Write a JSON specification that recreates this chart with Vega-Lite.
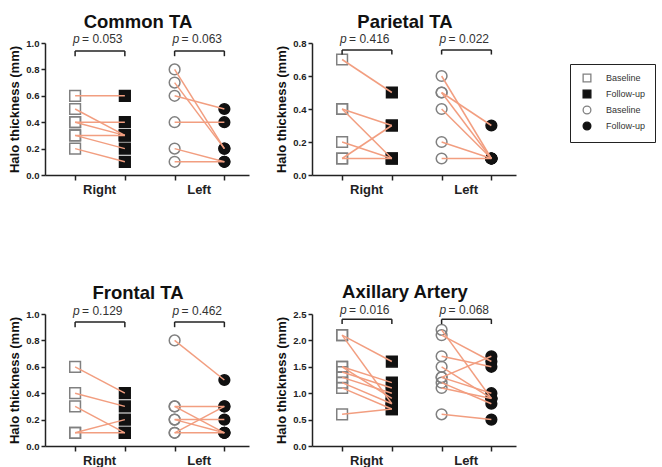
{
 "$schema": "https://vega.github.io/schema/vega-lite/v6.json",
 "padding": {"left": 8, "top": 12, "right": 0, "bottom": 0},
 "datasets": {
  "common": [
   {"pid":"R1","grp":"Right Baseline","val":0.6},{"pid":"R1","grp":"Right Follow-up","val":0.6},
   {"pid":"R2","grp":"Right Baseline","val":0.5},{"pid":"R2","grp":"Right Follow-up","val":0.3},
   {"pid":"R3","grp":"Right Baseline","val":0.4},{"pid":"R3","grp":"Right Follow-up","val":0.4},
   {"pid":"R4","grp":"Right Baseline","val":0.4},{"pid":"R4","grp":"Right Follow-up","val":0.3},
   {"pid":"R5","grp":"Right Baseline","val":0.3},{"pid":"R5","grp":"Right Follow-up","val":0.3},
   {"pid":"R6","grp":"Right Baseline","val":0.3},{"pid":"R6","grp":"Right Follow-up","val":0.2},
   {"pid":"R7","grp":"Right Baseline","val":0.2},{"pid":"R7","grp":"Right Follow-up","val":0.1},
   {"pid":"L1","grp":"Left Baseline","val":0.8},{"pid":"L1","grp":"Left Follow-up","val":0.2},
   {"pid":"L2","grp":"Left Baseline","val":0.7},{"pid":"L2","grp":"Left Follow-up","val":0.2},
   {"pid":"L3","grp":"Left Baseline","val":0.6},{"pid":"L3","grp":"Left Follow-up","val":0.5},
   {"pid":"L4","grp":"Left Baseline","val":0.4},{"pid":"L4","grp":"Left Follow-up","val":0.4},
   {"pid":"L5","grp":"Left Baseline","val":0.2},{"pid":"L5","grp":"Left Follow-up","val":0.1},
   {"pid":"L6","grp":"Left Baseline","val":0.1},{"pid":"L6","grp":"Left Follow-up","val":0.1}
  ],
  "parietal": [
   {"pid":"R1","grp":"Right Baseline","val":0.7},{"pid":"R1","grp":"Right Follow-up","val":0.5},
   {"pid":"R2","grp":"Right Baseline","val":0.4},{"pid":"R2","grp":"Right Follow-up","val":0.3},
   {"pid":"R3","grp":"Right Baseline","val":0.4},{"pid":"R3","grp":"Right Follow-up","val":0.1},
   {"pid":"R4","grp":"Right Baseline","val":0.2},{"pid":"R4","grp":"Right Follow-up","val":0.1},
   {"pid":"R5","grp":"Right Baseline","val":0.1},{"pid":"R5","grp":"Right Follow-up","val":0.3},
   {"pid":"R6","grp":"Right Baseline","val":0.1},{"pid":"R6","grp":"Right Follow-up","val":0.1},
   {"pid":"L1","grp":"Left Baseline","val":0.6},{"pid":"L1","grp":"Left Follow-up","val":0.1},
   {"pid":"L2","grp":"Left Baseline","val":0.5},{"pid":"L2","grp":"Left Follow-up","val":0.3},
   {"pid":"L3","grp":"Left Baseline","val":0.5},{"pid":"L3","grp":"Left Follow-up","val":0.1},
   {"pid":"L4","grp":"Left Baseline","val":0.4},{"pid":"L4","grp":"Left Follow-up","val":0.1},
   {"pid":"L5","grp":"Left Baseline","val":0.2},{"pid":"L5","grp":"Left Follow-up","val":0.1},
   {"pid":"L6","grp":"Left Baseline","val":0.1},{"pid":"L6","grp":"Left Follow-up","val":0.1}
  ],
  "frontal": [
   {"pid":"R1","grp":"Right Baseline","val":0.6},{"pid":"R1","grp":"Right Follow-up","val":0.4},
   {"pid":"R2","grp":"Right Baseline","val":0.4},{"pid":"R2","grp":"Right Follow-up","val":0.3},
   {"pid":"R3","grp":"Right Baseline","val":0.3},{"pid":"R3","grp":"Right Follow-up","val":0.1},
   {"pid":"R4","grp":"Right Baseline","val":0.1},{"pid":"R4","grp":"Right Follow-up","val":0.2},
   {"pid":"R5","grp":"Right Baseline","val":0.1},{"pid":"R5","grp":"Right Follow-up","val":0.1},
   {"pid":"L1","grp":"Left Baseline","val":0.8},{"pid":"L1","grp":"Left Follow-up","val":0.5},
   {"pid":"L2","grp":"Left Baseline","val":0.3},{"pid":"L2","grp":"Left Follow-up","val":0.3},
   {"pid":"L3","grp":"Left Baseline","val":0.3},{"pid":"L3","grp":"Left Follow-up","val":0.1},
   {"pid":"L4","grp":"Left Baseline","val":0.2},{"pid":"L4","grp":"Left Follow-up","val":0.2},
   {"pid":"L5","grp":"Left Baseline","val":0.2},{"pid":"L5","grp":"Left Follow-up","val":0.1},
   {"pid":"L6","grp":"Left Baseline","val":0.1},{"pid":"L6","grp":"Left Follow-up","val":0.3},
   {"pid":"L7","grp":"Left Baseline","val":0.1},{"pid":"L7","grp":"Left Follow-up","val":0.1}
  ],
  "axillary": [
   {"pid":"R1","grp":"Right Baseline","val":2.1},{"pid":"R1","grp":"Right Follow-up","val":1.6},
   {"pid":"R2","grp":"Right Baseline","val":2.1},{"pid":"R2","grp":"Right Follow-up","val":0.8},
   {"pid":"R3","grp":"Right Baseline","val":1.5},{"pid":"R3","grp":"Right Follow-up","val":1.2},
   {"pid":"R4","grp":"Right Baseline","val":1.5},{"pid":"R4","grp":"Right Follow-up","val":0.9},
   {"pid":"R5","grp":"Right Baseline","val":1.4},{"pid":"R5","grp":"Right Follow-up","val":1.1},
   {"pid":"R6","grp":"Right Baseline","val":1.3},{"pid":"R6","grp":"Right Follow-up","val":1.0},
   {"pid":"R7","grp":"Right Baseline","val":1.2},{"pid":"R7","grp":"Right Follow-up","val":0.8},
   {"pid":"R8","grp":"Right Baseline","val":1.1},{"pid":"R8","grp":"Right Follow-up","val":0.7},
   {"pid":"R9","grp":"Right Baseline","val":0.6},{"pid":"R9","grp":"Right Follow-up","val":0.7},
   {"pid":"L1","grp":"Left Baseline","val":2.2},{"pid":"L1","grp":"Left Follow-up","val":0.9},
   {"pid":"L2","grp":"Left Baseline","val":2.1},{"pid":"L2","grp":"Left Follow-up","val":1.6},
   {"pid":"L3","grp":"Left Baseline","val":1.7},{"pid":"L3","grp":"Left Follow-up","val":1.5},
   {"pid":"L4","grp":"Left Baseline","val":1.5},{"pid":"L4","grp":"Left Follow-up","val":0.9},
   {"pid":"L5","grp":"Left Baseline","val":1.3},{"pid":"L5","grp":"Left Follow-up","val":1.7},
   {"pid":"L6","grp":"Left Baseline","val":1.3},{"pid":"L6","grp":"Left Follow-up","val":1.0},
   {"pid":"L7","grp":"Left Baseline","val":1.2},{"pid":"L7","grp":"Left Follow-up","val":0.8},
   {"pid":"L8","grp":"Left Baseline","val":1.1},{"pid":"L8","grp":"Left Follow-up","val":0.9},
   {"pid":"L9","grp":"Left Baseline","val":0.6},{"pid":"L9","grp":"Left Follow-up","val":0.5}
  ],
  "ann": [
   {"panel":"Common TA","a":"Right Baseline","b":"Right Follow-up","p":"= 0.053","by":0.94,"ly":0.9,"ty":1.03},
   {"panel":"Common TA","a":"Left Baseline","b":"Left Follow-up","p":"= 0.063","by":0.94,"ly":0.9,"ty":1.03},
   {"panel":"Parietal TA","a":"Right Baseline","b":"Right Follow-up","p":"= 0.416","by":0.758,"ly":0.73,"ty":0.824},
   {"panel":"Parietal TA","a":"Left Baseline","b":"Left Follow-up","p":"= 0.022","by":0.758,"ly":0.73,"ty":0.824},
   {"panel":"Frontal TA","a":"Right Baseline","b":"Right Follow-up","p":"= 0.129","by":0.94,"ly":0.9,"ty":1.025},
   {"panel":"Frontal TA","a":"Left Baseline","b":"Left Follow-up","p":"= 0.462","by":0.94,"ly":0.9,"ty":1.025},
   {"panel":"Axillary Artery","a":"Right Baseline","b":"Right Follow-up","p":"= 0.016","by":2.4,"ly":2.31,"ty":2.58},
   {"panel":"Axillary Artery","a":"Left Baseline","b":"Left Follow-up","p":"= 0.068","by":2.4,"ly":2.31,"ty":2.58}
  ]
 },
 "resolve": {"scale": {"shape": "independent", "fill": "independent", "stroke": "independent"}, "legend": {"shape": "independent", "fill": "independent", "stroke": "independent"}},
 "spacing": 87,
 "vconcat": [
  {
   "spacing": 26,
   "resolve": {"scale": {"shape": "independent", "fill": "independent", "stroke": "independent"}, "legend": {"shape": "independent", "fill": "independent", "stroke": "independent"}},
   "hconcat": [
    {
     "width": 204, "height": 132,
     "title": {"text": "Common TA"},
     "encoding": {
      "y": {"type": "quantitative", "title": "Halo thickness (mm)", "scale": {"domain": [0, 1], "nice": false}, "axis": {"values": [0, 0.2, 0.4, 0.6, 0.8, 1.0], "format": ".1f", "labelOverlap": false}}
     },
     "layer": [
      {"data": {"name": "common"}, "mark": {"type": "point", "size": 115, "strokeWidth": 1.5, "opacity": 1},
       "encoding": {
        "x": {"field": "grp", "type": "ordinal", "title": null, "scale": {"type": "point", "domain": ["Right Baseline","Right Follow-up","Left Baseline","Left Follow-up"], "padding": 0.55, "align": 0.55},
              "axis": {"labelExpr": "datum.value == 'Right Baseline' ? 'Right' : (datum.value == 'Left Baseline' ? 'Left' : '')", "labelOffset": 24, "labelOverlap": false, "labelAngle": 0}},
        "y": {"field": "val"},
        "shape": {"field": "grp", "type": "nominal", "scale": {"domain": ["Right Baseline","Right Follow-up","Left Baseline","Left Follow-up"], "range": ["square","square","circle","circle"]}, "legend": null},
        "fill": {"field": "grp", "type": "nominal", "scale": {"domain": ["Right Baseline","Right Follow-up","Left Baseline","Left Follow-up"], "range": ["transparent","#111","transparent","#111"]}, "legend": null},
        "stroke": {"field": "grp", "type": "nominal", "scale": {"domain": ["Right Baseline","Right Follow-up","Left Baseline","Left Follow-up"], "range": ["#808080","#111","#808080","#111"]}, "legend": null}
       }},
      {"data": {"name": "common"}, "mark": {"type": "line", "color": "#f29e80", "strokeWidth": 1.5},
       "encoding": {"x": {"field": "grp", "type": "ordinal", "title": null}, "y": {"field": "val"}, "detail": {"field": "pid", "type": "nominal"}}},
      {"data": {"name": "ann"}, "transform": [{"filter": "datum.panel == 'Common TA'"}],
       "layer": [
        {"mark": {"type": "rule", "strokeWidth": 1.5, "color": "#222"}, "encoding": {"x": {"field": "a", "type": "ordinal", "title": null}, "x2": {"field": "b"}, "y": {"field": "by"}}},
        {"mark": {"type": "rule", "strokeWidth": 1.5, "color": "#222"}, "encoding": {"x": {"field": "a", "type": "ordinal", "title": null}, "y": {"field": "by"}, "y2": {"field": "ly"}}},
        {"mark": {"type": "rule", "strokeWidth": 1.5, "color": "#222"}, "encoding": {"x": {"field": "b", "type": "ordinal", "title": null}, "y": {"field": "by"}, "y2": {"field": "ly"}}},
        {"mark": {"type": "text", "text": "p", "fontStyle": "italic", "align": "left", "baseline": "middle", "dx": -2, "fontSize": 12, "color": "#333"}, "encoding": {"x": {"field": "a", "type": "ordinal", "title": null}, "y": {"field": "ty"}}},
        {"mark": {"type": "text", "align": "left", "baseline": "middle", "dx": 7, "fontSize": 12, "color": "#333"}, "encoding": {"x": {"field": "a", "type": "ordinal", "title": null}, "y": {"field": "ty"}, "text": {"field": "p"}}}
       ]}
     ]
    },
    {
     "width": 204, "height": 132,
     "title": {"text": "Parietal TA"},
     "encoding": {
      "y": {"type": "quantitative", "title": "Halo thickness (mm)", "scale": {"domain": [0, 0.8], "nice": false}, "axis": {"values": [0, 0.2, 0.4, 0.6, 0.8], "format": ".1f", "labelOverlap": false}}
     },
     "layer": [
      {"data": {"name": "parietal"}, "mark": {"type": "point", "size": 115, "strokeWidth": 1.5, "opacity": 1},
       "encoding": {
        "x": {"field": "grp", "type": "ordinal", "title": null, "scale": {"type": "point", "domain": ["Right Baseline","Right Follow-up","Left Baseline","Left Follow-up"], "padding": 0.55, "align": 0.55},
              "axis": {"labelExpr": "datum.value == 'Right Baseline' ? 'Right' : (datum.value == 'Left Baseline' ? 'Left' : '')", "labelOffset": 24, "labelOverlap": false, "labelAngle": 0}},
        "y": {"field": "val"},
        "shape": {"field": "grp", "type": "nominal", "scale": {"domain": ["Right Baseline","Right Follow-up","Left Baseline","Left Follow-up"], "range": ["square","square","circle","circle"]},
                  "legend": {"orient": "none", "legendX": 258, "legendY": 21, "title": null, "labelExpr": "split(datum.label, ' ')[1]", "strokeColor": "#222", "padding": 9, "symbolSize": 60, "symbolStrokeWidth": 1.3, "labelFontSize": 9, "labelFont": "Liberation Sans", "labelColor": "#333", "rowPadding": 2, "symbolOffset": 3, "labelOffset": 14}},
        "fill": {"field": "grp", "type": "nominal", "scale": {"domain": ["Right Baseline","Right Follow-up","Left Baseline","Left Follow-up"], "range": ["transparent","#111","transparent","#111"]}},
        "stroke": {"field": "grp", "type": "nominal", "scale": {"domain": ["Right Baseline","Right Follow-up","Left Baseline","Left Follow-up"], "range": ["#808080","#111","#808080","#111"]}}
       }},
      {"data": {"name": "parietal"}, "mark": {"type": "line", "color": "#f29e80", "strokeWidth": 1.5},
       "encoding": {"x": {"field": "grp", "type": "ordinal", "title": null}, "y": {"field": "val"}, "detail": {"field": "pid", "type": "nominal"}}},
      {"data": {"name": "ann"}, "transform": [{"filter": "datum.panel == 'Parietal TA'"}],
       "layer": [
        {"mark": {"type": "rule", "strokeWidth": 1.5, "color": "#222"}, "encoding": {"x": {"field": "a", "type": "ordinal", "title": null}, "x2": {"field": "b"}, "y": {"field": "by"}}},
        {"mark": {"type": "rule", "strokeWidth": 1.5, "color": "#222"}, "encoding": {"x": {"field": "a", "type": "ordinal", "title": null}, "y": {"field": "by"}, "y2": {"field": "ly"}}},
        {"mark": {"type": "rule", "strokeWidth": 1.5, "color": "#222"}, "encoding": {"x": {"field": "b", "type": "ordinal", "title": null}, "y": {"field": "by"}, "y2": {"field": "ly"}}},
        {"mark": {"type": "text", "text": "p", "fontStyle": "italic", "align": "left", "baseline": "middle", "dx": -2, "fontSize": 12, "color": "#333"}, "encoding": {"x": {"field": "a", "type": "ordinal", "title": null}, "y": {"field": "ty"}}},
        {"mark": {"type": "text", "align": "left", "baseline": "middle", "dx": 7, "fontSize": 12, "color": "#333"}, "encoding": {"x": {"field": "a", "type": "ordinal", "title": null}, "y": {"field": "ty"}, "text": {"field": "p"}}}
       ]}
     ]
    }
   ]
  },
  {
   "spacing": 26,
   "resolve": {"scale": {"shape": "independent", "fill": "independent", "stroke": "independent"}, "legend": {"shape": "independent", "fill": "independent", "stroke": "independent"}},
   "hconcat": [
    {
     "width": 204, "height": 132,
     "title": {"text": "Frontal TA"},
     "encoding": {
      "y": {"type": "quantitative", "title": "Halo thickness (mm)", "scale": {"domain": [0, 1], "nice": false}, "axis": {"values": [0, 0.2, 0.4, 0.6, 0.8, 1.0], "format": ".1f", "labelOverlap": false}}
     },
     "layer": [
      {"data": {"name": "frontal"}, "mark": {"type": "point", "size": 115, "strokeWidth": 1.5, "opacity": 1},
       "encoding": {
        "x": {"field": "grp", "type": "ordinal", "title": null, "scale": {"type": "point", "domain": ["Right Baseline","Right Follow-up","Left Baseline","Left Follow-up"], "padding": 0.55, "align": 0.55},
              "axis": {"labelExpr": "datum.value == 'Right Baseline' ? 'Right' : (datum.value == 'Left Baseline' ? 'Left' : '')", "labelOffset": 24, "labelOverlap": false, "labelAngle": 0}},
        "y": {"field": "val"},
        "shape": {"field": "grp", "type": "nominal", "scale": {"domain": ["Right Baseline","Right Follow-up","Left Baseline","Left Follow-up"], "range": ["square","square","circle","circle"]}, "legend": null},
        "fill": {"field": "grp", "type": "nominal", "scale": {"domain": ["Right Baseline","Right Follow-up","Left Baseline","Left Follow-up"], "range": ["transparent","#111","transparent","#111"]}, "legend": null},
        "stroke": {"field": "grp", "type": "nominal", "scale": {"domain": ["Right Baseline","Right Follow-up","Left Baseline","Left Follow-up"], "range": ["#808080","#111","#808080","#111"]}, "legend": null}
       }},
      {"data": {"name": "frontal"}, "mark": {"type": "line", "color": "#f29e80", "strokeWidth": 1.5},
       "encoding": {"x": {"field": "grp", "type": "ordinal", "title": null}, "y": {"field": "val"}, "detail": {"field": "pid", "type": "nominal"}}},
      {"data": {"name": "ann"}, "transform": [{"filter": "datum.panel == 'Frontal TA'"}],
       "layer": [
        {"mark": {"type": "rule", "strokeWidth": 1.5, "color": "#222"}, "encoding": {"x": {"field": "a", "type": "ordinal", "title": null}, "x2": {"field": "b"}, "y": {"field": "by"}}},
        {"mark": {"type": "rule", "strokeWidth": 1.5, "color": "#222"}, "encoding": {"x": {"field": "a", "type": "ordinal", "title": null}, "y": {"field": "by"}, "y2": {"field": "ly"}}},
        {"mark": {"type": "rule", "strokeWidth": 1.5, "color": "#222"}, "encoding": {"x": {"field": "b", "type": "ordinal", "title": null}, "y": {"field": "by"}, "y2": {"field": "ly"}}},
        {"mark": {"type": "text", "text": "p", "fontStyle": "italic", "align": "left", "baseline": "middle", "dx": -2, "fontSize": 12, "color": "#333"}, "encoding": {"x": {"field": "a", "type": "ordinal", "title": null}, "y": {"field": "ty"}}},
        {"mark": {"type": "text", "align": "left", "baseline": "middle", "dx": 7, "fontSize": 12, "color": "#333"}, "encoding": {"x": {"field": "a", "type": "ordinal", "title": null}, "y": {"field": "ty"}, "text": {"field": "p"}}}
       ]}
     ]
    },
    {
     "width": 204, "height": 132,
     "title": {"text": "Axillary Artery"},
     "encoding": {
      "y": {"type": "quantitative", "title": "Halo thickness (mm)", "scale": {"domain": [0, 2.5], "nice": false}, "axis": {"values": [0, 0.5, 1.0, 1.5, 2.0, 2.5], "format": ".1f", "labelOverlap": false}}
     },
     "layer": [
      {"data": {"name": "axillary"}, "mark": {"type": "point", "size": 115, "strokeWidth": 1.5, "opacity": 1},
       "encoding": {
        "x": {"field": "grp", "type": "ordinal", "title": null, "scale": {"type": "point", "domain": ["Right Baseline","Right Follow-up","Left Baseline","Left Follow-up"], "padding": 0.55, "align": 0.55},
              "axis": {"labelExpr": "datum.value == 'Right Baseline' ? 'Right' : (datum.value == 'Left Baseline' ? 'Left' : '')", "labelOffset": 24, "labelOverlap": false, "labelAngle": 0}},
        "y": {"field": "val"},
        "shape": {"field": "grp", "type": "nominal", "scale": {"domain": ["Right Baseline","Right Follow-up","Left Baseline","Left Follow-up"], "range": ["square","square","circle","circle"]}, "legend": null},
        "fill": {"field": "grp", "type": "nominal", "scale": {"domain": ["Right Baseline","Right Follow-up","Left Baseline","Left Follow-up"], "range": ["transparent","#111","transparent","#111"]}, "legend": null},
        "stroke": {"field": "grp", "type": "nominal", "scale": {"domain": ["Right Baseline","Right Follow-up","Left Baseline","Left Follow-up"], "range": ["#808080","#111","#808080","#111"]}, "legend": null}
       }},
      {"data": {"name": "axillary"}, "mark": {"type": "line", "color": "#f29e80", "strokeWidth": 1.5},
       "encoding": {"x": {"field": "grp", "type": "ordinal", "title": null}, "y": {"field": "val"}, "detail": {"field": "pid", "type": "nominal"}}},
      {"data": {"name": "ann"}, "transform": [{"filter": "datum.panel == 'Axillary Artery'"}],
       "layer": [
        {"mark": {"type": "rule", "strokeWidth": 1.5, "color": "#222"}, "encoding": {"x": {"field": "a", "type": "ordinal", "title": null}, "x2": {"field": "b"}, "y": {"field": "by"}}},
        {"mark": {"type": "rule", "strokeWidth": 1.5, "color": "#222"}, "encoding": {"x": {"field": "a", "type": "ordinal", "title": null}, "y": {"field": "by"}, "y2": {"field": "ly"}}},
        {"mark": {"type": "rule", "strokeWidth": 1.5, "color": "#222"}, "encoding": {"x": {"field": "b", "type": "ordinal", "title": null}, "y": {"field": "by"}, "y2": {"field": "ly"}}},
        {"mark": {"type": "text", "text": "p", "fontStyle": "italic", "align": "left", "baseline": "middle", "dx": -2, "fontSize": 12, "color": "#333"}, "encoding": {"x": {"field": "a", "type": "ordinal", "title": null}, "y": {"field": "ty"}}},
        {"mark": {"type": "text", "align": "left", "baseline": "middle", "dx": 7, "fontSize": 12, "color": "#333"}, "encoding": {"x": {"field": "a", "type": "ordinal", "title": null}, "y": {"field": "ty"}, "text": {"field": "p"}}}
       ]}
     ]
    }
   ]
  }
 ],
 "config": {
  "font": "Liberation Sans",
  "view": {"stroke": null},
  "axis": {"domainColor": "#222", "domainWidth": 1.5, "tickColor": "#222", "tickWidth": 1.5, "labelColor": "#222", "titleColor": "#111", "labelFont": "Liberation Sans", "titleFont": "Liberation Sans", "grid": false},
  "axisY": {"labelFontSize": 9.5, "labelFontWeight": "bold", "tickSize": 4, "labelPadding": 2, "titleFontSize": 13, "titleFontWeight": "bold", "titlePadding": 4, "labelOverlap": false, "labelFlush": false},
  "axisQuantitative": {"labelOverlap": false},
  "axisX": {"labelFontSize": 13, "labelFontWeight": "bold", "tickSize": 5, "labelPadding": 3},
  "title": {"font": "Liberation Sans", "fontSize": 18.5, "fontWeight": "bold", "offset": 2, "color": "#111", "dx": -9}
 }
}
